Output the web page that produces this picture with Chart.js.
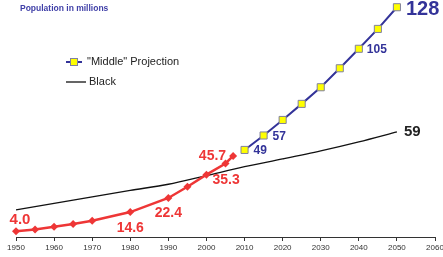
<!DOCTYPE html>
<html>
<head>
<meta charset="utf-8">
<script src="https://cdn.jsdelivr.net/npm/chart.js@4/dist/chart.umd.min.js"></script>
<style>
  html, body { margin: 0; padding: 0; background: #fff; }
  #wrap { position: relative; width: 443px; height: 257px; }
</style>
</head>
<body>
<div id="wrap"><canvas id="chart" width="443" height="257"></canvas></div>
<script>
// =====================
// DATA
// =====================

const actualYears  = [1950, 1955, 1960, 1965, 1970, 1980, 1990, 1995, 2000, 2005, 2007];
const actualValues = [4.0, 5.0, 6.5, 8.0, 9.8, 14.6, 22.4, 28.6, 35.3, 41.5, 45.7];

const projYears  = [2010, 2015, 2020, 2025, 2030, 2035, 2040, 2045, 2050];
const projValues = [49, 57, 65.6, 74.5, 83.7, 94.2, 105, 116, 128];

const blackYears  = [1950, 1960, 1970, 1980, 1990, 2000, 2010, 2020, 2030, 2040, 2050];
const blackValues = [15.8, 19.4, 23.0, 26.6, 30.0, 34.8, 39.7, 44.0, 48.5, 53.5, 59];

const xTicks = [1950, 1960, 1970, 1980, 1990, 2000, 2010, 2020, 2030, 2040, 2050, 2060];

const titleText = "Population in millions";
const legendNames = ['"Middle" Projection', "Black"];

// which points carry a value label
const actualLabelIdx = [0, 5, 6, 8, 10];
const projLabelIdx = [0, 1, 6, 8];
const blackLabelIdx = [10];

const toXY = (xs, ys) => xs.map((x, i) => ({ x: x, y: ys[i] }));

// =====================
// PLUGINS
// =====================

const RED = "#ee3636";
const BLUE = "#333399";

// label looks, by dataset then by point index
const labelStyle = {
  0: { // actual
    0:  { dx: 4,   dy: -11, size: 15, align: "center" },
    5:  { dx: 0,   dy: 16,  size: 14, align: "center" },
    6:  { dx: 0,   dy: 15,  size: 14, align: "center" },
    8:  { dx: 6,   dy: 5,   size: 14, align: "left" },
    10: { dx: -7,  dy: 0,   size: 14, align: "right" }
  },
  1: { // projection
    0: { dx: 9,  dy: 1,  size: 12, align: "left" },
    1: { dx: 9,  dy: 1,  size: 12, align: "left" },
    6: { dx: 8,  dy: 1,  size: 12, align: "left" },
    8: { dx: 9,  dy: 2,  size: 20, align: "left" }
  },
  2: { // black
    10: { dx: 7, dy: 0, size: 15, align: "left" }
  }
};

const valueLabels = {
  id: "valueLabels",
  afterDatasetsDraw(chart) {
    const ctx = chart.ctx;
    const sets = [
      { idx: actualLabelIdx, text: i => actualValues[i].toFixed(1), color: RED },
      { idx: projLabelIdx, text: i => String(Math.round(projValues[i])), color: BLUE },
      { idx: blackLabelIdx, text: i => String(Math.round(blackValues[i])), color: "#222" }
    ];
    ctx.save();
    ctx.textBaseline = "middle";
    sets.forEach((s, d) => {
      const meta = chart.getDatasetMeta(d);
      s.idx.forEach(i => {
        const pt = meta.data[i];
        const st = labelStyle[d][i];
        ctx.font = `bold ${st.size}px Arial, "Liberation Sans", sans-serif`;
        ctx.fillStyle = s.color;
        ctx.textAlign = st.align;
        ctx.fillText(s.text(i), pt.x + st.dx, pt.y + st.dy);
      });
    });
    ctx.restore();
  }
};

const titleAndLegend = {
  id: "titleAndLegend",
  afterDraw(chart) {
    const ctx = chart.ctx;
    ctx.save();
    ctx.textBaseline = "middle";
    ctx.textAlign = "left";

    ctx.font = 'bold 8.5px Arial, "Liberation Sans", sans-serif';
    ctx.fillStyle = "#4040a8";
    ctx.fillText(titleText, 20, 9);

    // projection entry
    ctx.strokeStyle = BLUE;
    ctx.lineWidth = 2;
    ctx.beginPath();
    ctx.moveTo(66, 62);
    ctx.lineTo(82, 62);
    ctx.stroke();
    ctx.fillStyle = "#ffff00";
    ctx.strokeStyle = "#8080a0";
    ctx.lineWidth = 1;
    ctx.fillRect(70.5, 58.5, 7, 7);
    ctx.strokeRect(70.5, 58.5, 7, 7);

    // black entry
    ctx.strokeStyle = "#111";
    ctx.lineWidth = 1.3;
    ctx.beginPath();
    ctx.moveTo(66, 82);
    ctx.lineTo(86, 82);
    ctx.stroke();

    ctx.font = '11px Arial, "Liberation Sans", sans-serif';
    ctx.fillStyle = "#222";
    ctx.fillText(legendNames[0], 87, 62);
    ctx.fillText(legendNames[1], 89, 82);
    ctx.restore();
  }
};

// =====================
// CHART
// =====================

new Chart(document.getElementById("chart"), {
  type: "line",
  data: {
    datasets: [
      {
        data: toXY(actualYears, actualValues),
        borderColor: RED,
        backgroundColor: RED,
        borderWidth: 2.5,
        pointStyle: "rectRot",
        pointRadius: 4,
        pointBorderWidth: 0,
        tension: 0,
        clip: false
      },
      {
        data: toXY(projYears, projValues),
        borderColor: BLUE,
        borderWidth: 2,
        pointStyle: "rect",
        pointRadius: 5,
        pointBackgroundColor: "#ffff00",
        pointBorderColor: "#8080a0",
        pointBorderWidth: 1,
        tension: 0,
        clip: false
      },
      {
        data: toXY(blackYears, blackValues),
        borderColor: "#111",
        borderWidth: 1.3,
        pointRadius: 0,
        tension: 0.3,
        clip: false
      }
    ]
  },
  options: {
    responsive: false,
    animation: false,
    events: [],
    layout: { autoPadding: false, padding: { left: 16, right: 8, top: 0, bottom: 0 } },
    plugins: {
      legend: { display: false },
      tooltip: { enabled: false }
    },
    scales: {
      x: {
        type: "linear",
        min: 1950,
        max: 2060,
        afterBuildTicks: s => { s.ticks = xTicks.map(v => ({ value: v })); },
        afterFit: s => { s.height = 20; s.paddingLeft = 0; s.paddingRight = 0; },
        ticks: {
          autoSkip: false,
          maxRotation: 0,
          padding: 2,
          color: "#333",
          font: { family: 'Arial, "Liberation Sans", sans-serif', size: 8 },
          callback: v => String(v)
        },
        grid: {
          drawOnChartArea: false,
          drawTicks: true,
          tickLength: 4,
          color: "#333"
        },
        border: { display: true, color: "#333", width: 1 }
      },
      y: {
        display: false,
        min: 0.8,
        max: 132
      }
    }
  },
  plugins: [valueLabels, titleAndLegend]
});
</script>
</body>
</html>
